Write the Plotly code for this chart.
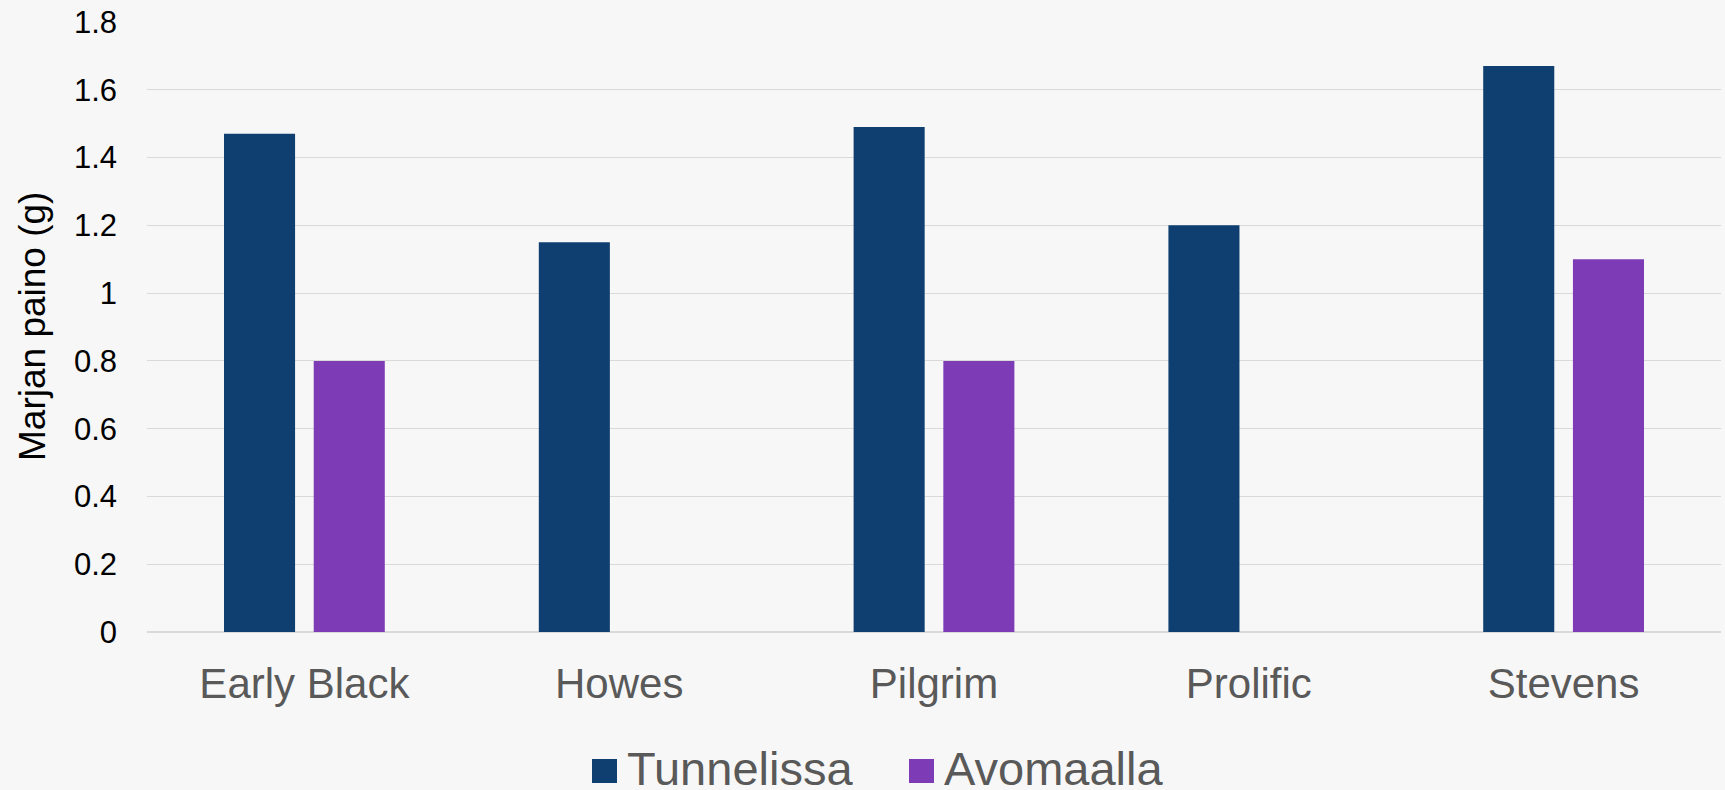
import plotly.graph_objects as go

# Berry weight by cultivar, tunnel vs open field
cultivars = ["Early Black", "Howes", "Pilgrim", "Prolific", "Stevens"]
tunnelissa = [1.47, 1.15, 1.49, 1.20, 1.67]
avomaalla = [0.80, None, 0.80, None, 1.10]
y_ticks = [0, 0.2, 0.4, 0.6, 0.8, 1, 1.2, 1.4, 1.6, 1.8]

series_names = ["Tunnelissa", "Avomaalla"]
series_colors = ["#0f3f70", "#7d3bb5"]

W, H = 1725, 790
L, R, T, B = 147, 4, 22, 158
PW, PH = W - L - R, H - T - B


def px_x(x):
    return (x - L) / PW


def px_y(y):
    return (H - B - y) / PH


FONT = "Liberation Sans, Arial, sans-serif"

fig = go.Figure()
for name, vals, col in zip(series_names, [tunnelissa, avomaalla], series_colors):
    fig.add_trace(go.Bar(
        x=cultivars, y=vals, name=name,
        marker=dict(color=col, line=dict(width=0)),
        showlegend=False,
    ))

# Legend drawn by hand: square swatches with large labels
legend_items = [
    (series_names[0], series_colors[0], 592, 625),
    (series_names[1], series_colors[1], 909, 942),
]
for name, col, sx, tx in legend_items:
    fig.add_shape(type="rect", xref="paper", yref="paper",
                  x0=px_x(sx), x1=px_x(sx + 25), y0=px_y(783), y1=px_y(759),
                  fillcolor=col, line=dict(width=0))
    fig.add_annotation(text=name, xref="paper", yref="paper",
                       x=px_x(tx), y=px_y(768.5), xanchor="left", yanchor="middle",
                       showarrow=False,
                       font=dict(family=FONT, size=47, color="#595959"))

# Y axis title
fig.add_annotation(text="Marjan paino (g)", xref="paper", yref="paper",
                   x=px_x(32), y=0.5, xanchor="center", yanchor="middle",
                   textangle=-90, showarrow=False,
                   font=dict(family=FONT, size=37, color="#000000"))

fig.update_layout(
    width=W, height=H,
    margin=dict(l=L, r=R, t=T, b=B, pad=0),
    paper_bgcolor="#f7f7f7", plot_bgcolor="#f7f7f7",
    barmode="group", bargap=0.43, bargroupgap=0.208,
    font=dict(family=FONT),
    xaxis=dict(
        showgrid=False, showline=False, zeroline=False,
        tickfont=dict(size=42, color="#595959"),
        ticks="", ticklabelstandoff=23,
    ),
    yaxis=dict(
        range=[0, 1.8], tickvals=y_ticks,
        showgrid=True, gridcolor="#d9d9d9", gridwidth=1,
        zeroline=True, zerolinecolor="#d9d9d9", zerolinewidth=1.5,
        showline=False, ticks="",
        tickfont=dict(size=31, color="#000000"),
        ticklabelstandoff=29,
    ),
)

fig.write_html("out.html")
